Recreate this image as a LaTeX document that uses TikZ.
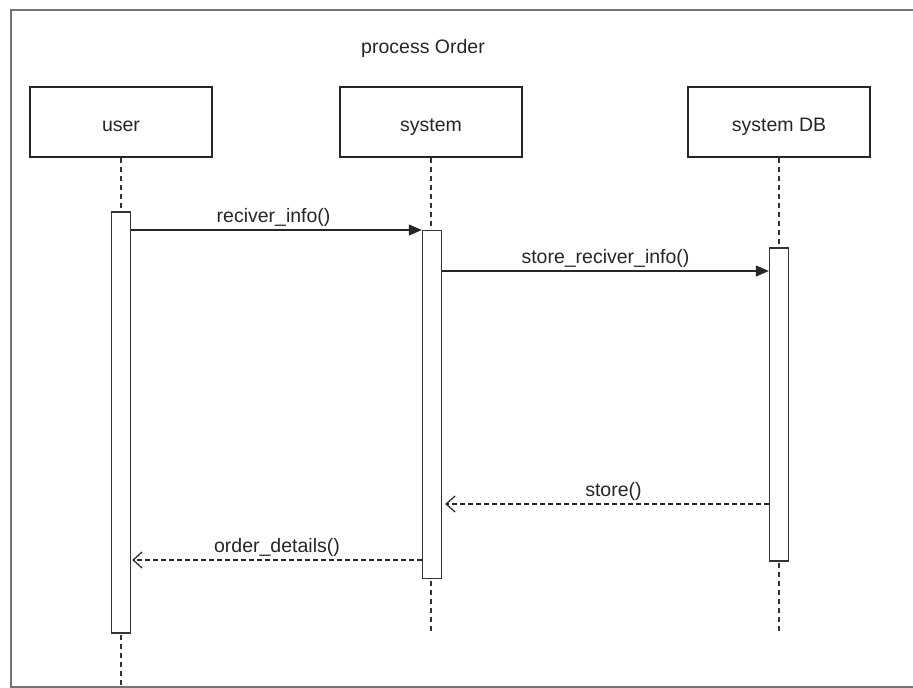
\documentclass[tikz,border=0pt]{standalone}
\usepackage{fontspec}
\setmainfont{Liberation Sans}
\usetikzlibrary{arrows.meta}
\begin{document}
\begin{tikzpicture}[x=1pt,y=-1pt,
  every node/.style={font=\fontsize{19.5}{23}\selectfont, text=black!85},
  actor/.style={draw=black!85, line width=1.4pt, minimum width=182pt, minimum height=70pt, inner sep=0pt},
  actorname/.style={text height=14pt, text depth=2pt, inner sep=0pt},
  activation/.style={draw=black!80, line width=1.4pt, minimum width=19pt, inner sep=0pt},
  lifeline/.style={draw=black!80, line width=1.3pt, dash pattern=on 5pt off 4pt},
  call/.style={draw=black!85, line width=1.2pt, -{Triangle[length=13pt,width=11pt]}},
  reply/.style={draw=black!85, line width=1.1pt, dash pattern=on 4.5pt off 3.5pt, -{Straight Barb[length=9pt,width=16pt,line width=1.2pt]}},
  msglabel/.style={anchor=south, inner sep=3pt}
]
\useasboundingbox (0,0) rectangle (913,688);
\fill[white] (0,0) rectangle (913,688);

% frame
\draw[black!55, line width=2pt] (913,10) -- (11,10) -- (11,687) -- (913,687);

% title
\node (title) at (423,48) {process Order};

% participants
\node[actor] (user) at (121,122) {};
\node[actor] (sys)  at (431,122) {};
\node[actor] (db)   at (779,122) {};
\node[actorname] (usern) at (121,125) {user};
\node[actorname] (sysn)  at (431,125) {system};
\node[actorname] (dbn)   at (779,125) {system DB};

% lifeline ends
\coordinate (userend) at (121,688);
\coordinate (sysend)  at (431,632);
\coordinate (dbend)   at (779,632);

\draw[lifeline] (user.south) -- (userend);
\draw[lifeline] (sys.south) -- (sysend);
\draw[lifeline] (db.south) -- (dbend);

% activation bars
\node[activation, fill=white, minimum height=421pt] (ua) at (121,422.5) {};
\node[activation, fill=white, minimum height=348pt] (sa) at (432,404.5) {};
\node[activation, fill=white, minimum height=313pt] (da) at (779,404.5) {};

% message levels
\coordinate (m1) at (0,230);
\coordinate (m2) at (0,271);
\coordinate (m3) at (0,504);
\coordinate (m4) at (0,560);

\draw[call] (ua.east |- m1) -- node[msglabel, pos=0.49] {reciver\_info()} (sa.west |- m1);
\draw[call] (sa.east |- m2) -- node[msglabel, pos=0.5] {store\_reciver\_info()} (da.west |- m2);
\draw[reply] (da.west |- m3) -- node[msglabel, pos=0.48] {store()} ([xshift=3pt]sa.east |- m3);
\draw[reply] (sa.west |- m4) -- node[msglabel, pos=0.5] {order\_details()} ([xshift=1pt]ua.east |- m4);
\end{tikzpicture}
\end{document}
